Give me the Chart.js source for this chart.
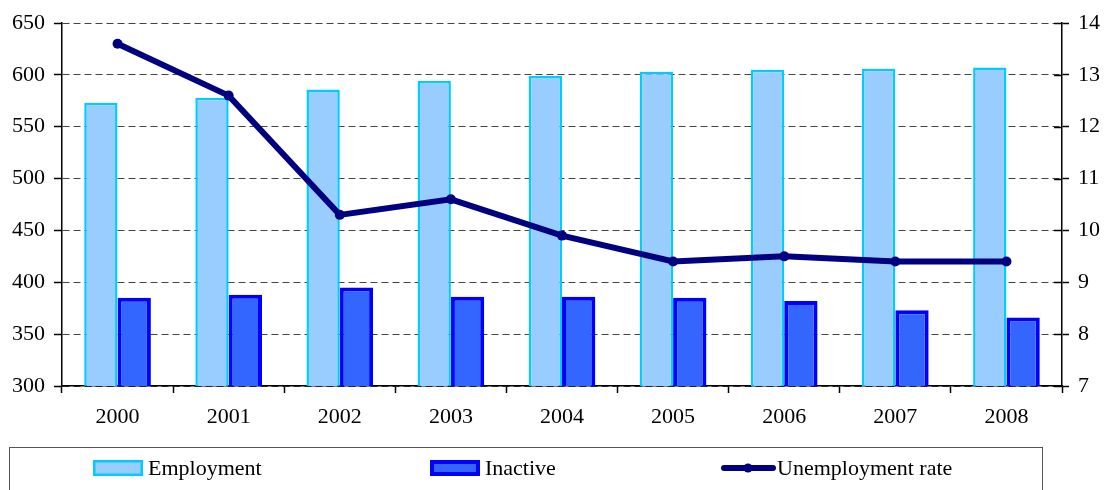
<!DOCTYPE html>
<html>
<head>
<meta charset="utf-8">
<script src="https://cdn.jsdelivr.net/npm/chart.js@4.4.0/dist/chart.umd.min.js"></script>
<style>
  html, body { margin: 0; padding: 0; background: #fff; }
  canvas { display: block; }
</style>
</head>
<body>
<canvas id="chart" width="1109" height="490"></canvas>
<script>
// chart values
const years = ["2000", "2001", "2002", "2003", "2004", "2005", "2006", "2007", "2008"];
const employment = [573, 578, 586, 594, 599, 603, 605, 606, 607];
const inactive = [385, 388, 395, 386, 386, 385, 382, 373, 366];
const unemploymentRate = [13.6, 12.6, 10.3, 10.6, 9.9, 9.4, 9.5, 9.4, 9.4];

const FONT = "Liberation Serif";
const FONT_SIZE = 22;

// draws the boxed legend under the plot, and the inner half of the right axis ticks
const extras = {
  id: "extras",
  afterDraw(chart) {
    const ctx = chart.ctx;
    const ds = chart.data.datasets;

    // right axis: ticks cross the axis line
    const y1 = chart.scales.y1;
    ctx.save();
    ctx.strokeStyle = "#000";
    ctx.lineWidth = 1.5;
    y1.ticks.forEach((t) => {
      const py = Math.round(y1.getPixelForValue(t.value)) + 0.5;
      ctx.beginPath();
      ctx.moveTo(y1.left - 8, py);
      ctx.lineTo(y1.left, py);
      ctx.stroke();
    });
    ctx.restore();

    // legend box
    ctx.save();
    ctx.strokeStyle = "#555";
    ctx.lineWidth = 1;
    ctx.strokeRect(9.5, 447.5, 1033, 60);

    const slots = [93, 430, 721];
    ctx.font = FONT_SIZE + "px '" + FONT + "'";
    ctx.textBaseline = "middle";
    ds.forEach((d, k) => {
      const x = slots[k];
      const cy = 468;
      if (d.type === "line") {
        ctx.strokeStyle = d.borderColor;
        ctx.lineWidth = 6;
        ctx.lineCap = "round";
        ctx.beginPath();
        ctx.moveTo(x + 3, cy);
        ctx.lineTo(x + 52, cy);
        ctx.stroke();
        ctx.beginPath();
        ctx.fillStyle = d.borderColor;
        ctx.arc(x + 27, cy, 4.5, 0, Math.PI * 2);
        ctx.fill();
        ctx.fillStyle = "#000";
        ctx.fillText(d.label, x + 56, cy + 1);
      } else {
        const bw = d.borderWidth;
        ctx.fillStyle = d.borderColor;
        ctx.fillRect(x, cy - 8, 50, 16);
        ctx.fillStyle = d.backgroundColor;
        ctx.fillRect(x + bw, cy - 8 + bw, 50 - 2 * bw, 16 - 2 * bw);
        ctx.fillStyle = "#000";
        ctx.fillText(d.label, x + 55, cy + 1);
      }
    });
    ctx.restore();
  }
};

new Chart(document.getElementById("chart"), {
  data: {
    labels: years,
    datasets: [
      {
        type: "bar",
        label: "Employment",
        data: employment,
        backgroundColor: "#99CCFF",
        borderColor: "#00CCFF",
        borderWidth: 2.5,
        borderSkipped: false,
        categoryPercentage: 0.6,
        barPercentage: 1,
        yAxisID: "y",
        order: 1
      },
      {
        type: "bar",
        label: "Inactive",
        data: inactive,
        backgroundColor: "#3366FF",
        borderColor: "#0000FF",
        borderWidth: 4,
        borderSkipped: false,
        categoryPercentage: 0.6,
        barPercentage: 1,
        yAxisID: "y",
        order: 2
      },
      {
        type: "line",
        label: "Unemployment rate",
        data: unemploymentRate,
        borderColor: "#000080",
        backgroundColor: "#000080",
        borderWidth: 6,
        pointRadius: 5,
        pointBorderWidth: 0,
        pointBackgroundColor: "#000080",
        tension: 0,
        yAxisID: "y1",
        order: 0
      }
    ]
  },
  options: {
    responsive: false,
    animation: false,
    layout: { padding: { top: 23, bottom: 54, left: 0, right: 0 } },
    plugins: {
      legend: { display: false },
      tooltip: { enabled: false }
    },
    scales: {
      x: {
        offset: true,
        grid: {
          offset: true,
          drawOnChartArea: false,
          drawTicks: true,
          tickLength: 7,
          tickColor: "#000",
          tickWidth: 1.5
        },
        border: { color: "#000", width: 1.5 },
        ticks: { color: "#000", font: { family: FONT, size: FONT_SIZE }, padding: 11 },
        afterFit(s) { s.height = 50; }
      },
      y: {
        position: "left",
        min: 300,
        max: 650,
        ticks: { stepSize: 50, color: "#000", font: { family: FONT, size: FONT_SIZE }, padding: 9 },
        grid: {
          color: "#444",
          lineWidth: 1,
          tickLength: 8,
          tickColor: "#000",
          tickWidth: 1.5
        },
        border: { color: "#000", width: 1.5, dash: [7, 4] },
        afterFit(s) { s.width = 62; }
      },
      y1: {
        position: "right",
        min: 7,
        max: 14,
        ticks: { stepSize: 1, color: "#000", font: { family: FONT, size: FONT_SIZE }, padding: 9 },
        grid: {
          drawOnChartArea: false,
          tickLength: 7,
          tickColor: "#000",
          tickWidth: 1.5
        },
        border: { color: "#000", width: 1.5 },
        afterFit(s) { s.width = 47; }
      }
    }
  },
  plugins: [extras]
});
</script>
</body>
</html>
